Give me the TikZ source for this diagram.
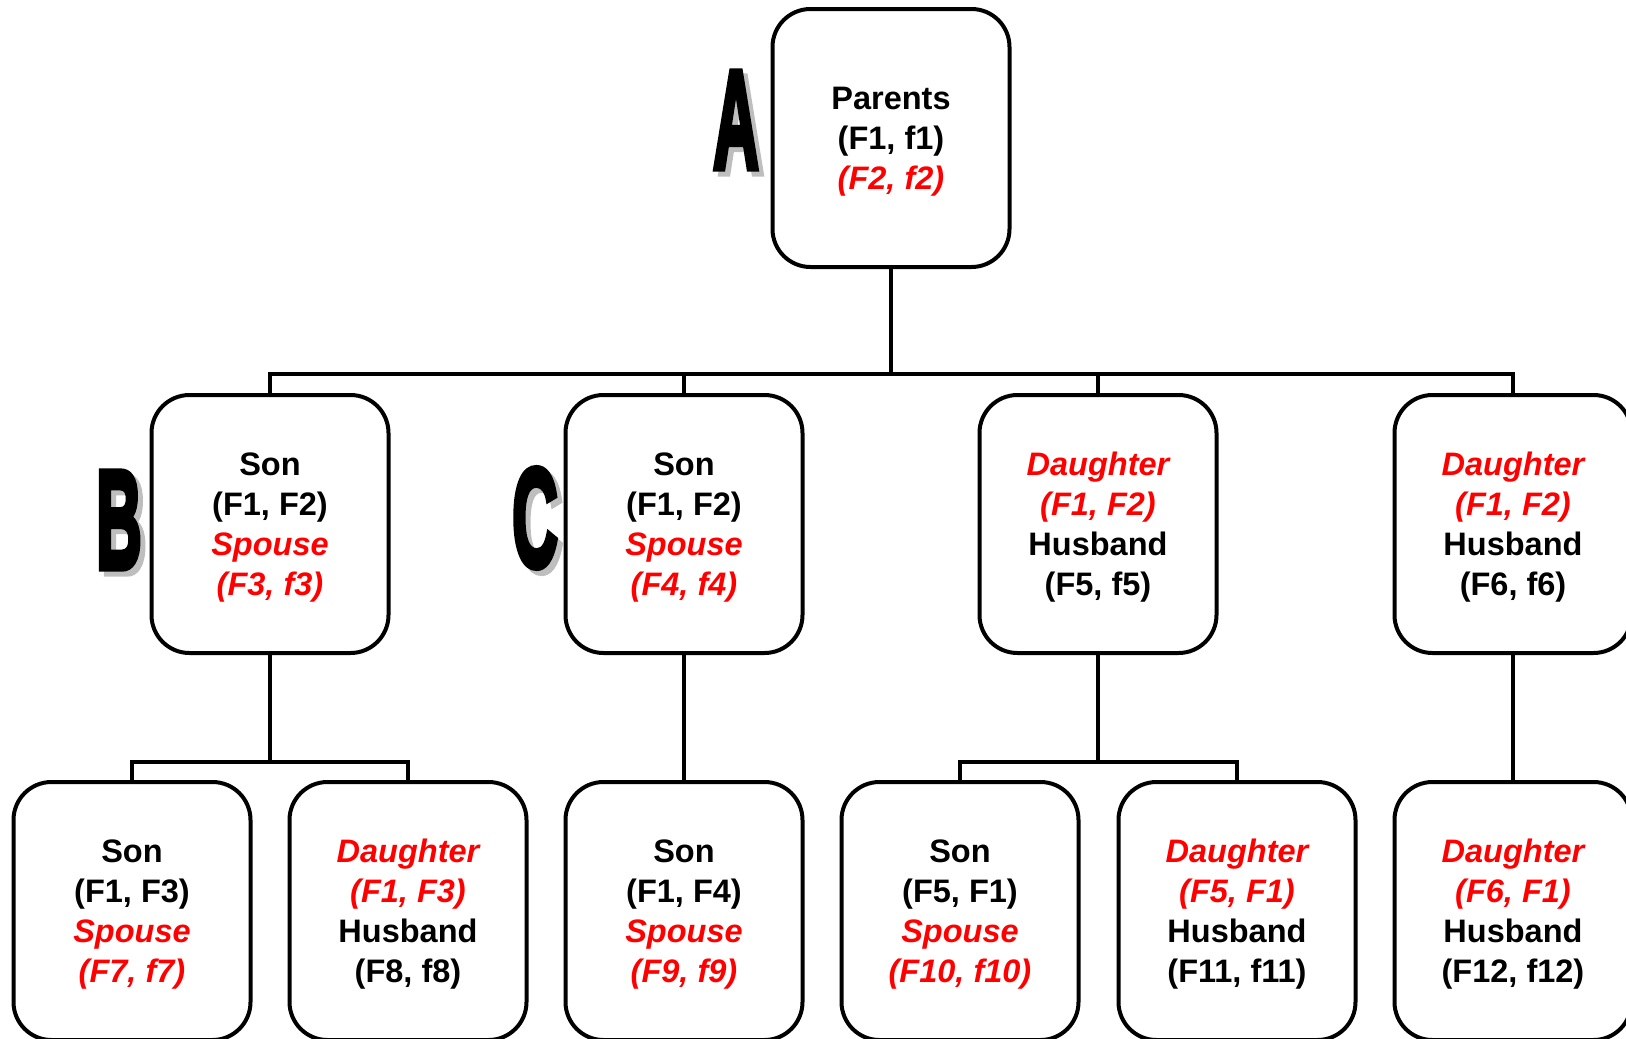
\documentclass[tikz,border=0pt]{standalone}
\usepackage{fontspec}
\setmainfont{Liberation Sans}
\newfontfamily\heavy{Liberation Sans}[UprightFont={* Bold},FakeBold=5]
\usepackage{graphicx}
\definecolor{rd}{RGB}{255,0,0}
\definecolor{shade}{RGB}{190,190,190}
\tikzset{
  famb/.style={draw=black, line width=4pt, rounded corners=38pt, minimum width=237pt, minimum height=258pt, inner sep=0pt, align=center, font=\bfseries\fontsize{32.5}{40}\selectfont},
  conn/.style={line width=4pt, line join=miter},
  bigl/.style={inner sep=0pt, font=\heavy\fontsize{140}{140}\selectfont},
}
\newcommand{\rtxt}[1]{\textcolor{rd}{\itshape #1}}
\newcommand{\tstrut}{\rule{0pt}{30pt}}
\newcommand{\bigletter}[1]{\scalebox{0.45}[1]{#1}}
\begin{document}
\begin{tikzpicture}[x=1pt,y=-1pt]
\useasboundingbox (0,0) rectangle (1626,1039);
% boxes
\node[famb] (A) at (891,138) {\tstrut Parents\\(F1, f1)\\\rtxt{(F2, f2)}};
\node[famb] (b1) at (270,524) {\tstrut Son\\(F1, F2)\\\rtxt{Spouse}\\\rtxt{(F3, f3)}};
\node[famb] (b2) at (684,524) {\tstrut Son\\(F1, F2)\\\rtxt{Spouse}\\\rtxt{(F4, f4)}};
\node[famb] (b3) at (1098,524) {\tstrut\rtxt{Daughter}\\\rtxt{(F1, F2)}\\Husband\\(F5, f5)};
\node[famb] (b4) at (1513,524) {\tstrut\rtxt{Daughter}\\\rtxt{(F1, F2)}\\Husband\\(F6, f6)};
\node[famb] (c1) at (132,911) {\tstrut Son\\(F1, F3)\\\rtxt{Spouse}\\\rtxt{(F7, f7)}};
\node[famb] (c2) at (408,911) {\tstrut\rtxt{Daughter}\\\rtxt{(F1, F3)}\\Husband\\(F8, f8)};
\node[famb] (c3) at (684,911) {\tstrut Son\\(F1, F4)\\\rtxt{Spouse}\\\rtxt{(F9, f9)}};
\node[famb] (c4) at (960,911) {\tstrut Son\\(F5, F1)\\\rtxt{Spouse}\\\rtxt{(F10, f10)}};
\node[famb] (c5) at (1237,911) {\tstrut\rtxt{Daughter}\\\rtxt{(F5, F1)}\\Husband\\(F11, f11)};
\node[famb] (c6) at (1513,911) {\tstrut\rtxt{Daughter}\\\rtxt{(F6, F1)}\\Husband\\(F12, f12)};
% junctions
\coordinate (j) at (891,374);
\coordinate (jb) at (270,762);
\coordinate (jd) at (1098,762);
\draw[conn] (A.south) -- (j);
\draw[conn] (b1.north) |- (j) -| (b4.north);
\draw[conn] (b2.north) -- (b2.north |- j);
\draw[conn] (b3.north) -- (b3.north |- j);
\draw[conn] (b1.south) -- (jb);
\draw[conn] (c1.north) |- (jb) -| (c2.north);
\draw[conn] (b2.south) -- (c3.north);
\draw[conn] (b3.south) -- (jd);
\draw[conn] (c4.north) |- (jd) -| (c5.north);
\draw[conn] (b4.south) -- (c6.north);
% letters
\node[bigl, text=shade] (As) at (741,125) {\bigletter{A}};
\node[bigl] (Al) at (736,120) {\bigletter{A}};
\node[bigl, text=shade] (Bs) at (124,525) {\bigletter{B}};
\node[bigl] (Bl) at (119,520) {\bigletter{B}};
\node[bigl, text=shade] (Cs) at (540,523) {\bigletter{C}};
\node[bigl] (Cl) at (535,518) {\bigletter{C}};
\end{tikzpicture}
\end{document}
